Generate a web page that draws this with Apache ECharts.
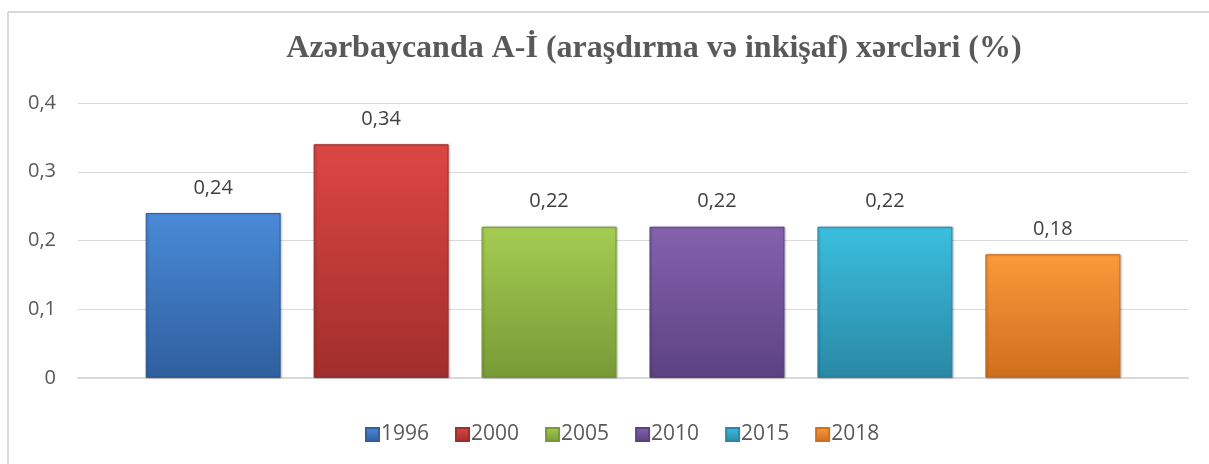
<!DOCTYPE html>
<html>
<head>
<meta charset="utf-8">
<script src="https://cdn.jsdelivr.net/npm/echarts@6/dist/echarts.min.js"></script>
<style>
html,body{margin:0;padding:0;background:#fff;}
#chart{width:1209px;height:464px;}
</style>
</head>
<body>
<div id="chart"></div>
<script>
var titleText = 'Azərbaycanda A-İ (araşdırma və inkişaf) xərcləri (%)';
var years = ['1996', '2000', '2005', '2010', '2015', '2018'];
var values = [0.24, 0.34, 0.22, 0.22, 0.22, 0.18];
var yTicks = [0, 0.1, 0.2, 0.3, 0.4];
var colorsTop = ['#4a8ad8', '#dc4643', '#a5cc52', '#8462ad', '#3cbede', '#fa9a3a'];
var colorsBottom = ['#2f5f9e', '#a02e2c', '#789a36', '#5c4282', '#2a88a6', '#cf6e1e'];

function fmt(v){ return String(+v.toFixed(2)).replace('.', ','); }

var chart = echarts.init(document.getElementById('chart'));
var series = years.map(function(y, i){
  return {
    name: y,
    type: 'bar',
    data: [values[i]],
    barWidth: 135,
    barGap: '24.4%',
    itemStyle: {
      color: new echarts.graphic.LinearGradient(0, 0, 0, 1, [
        {offset: 0, color: colorsTop[i]},
        {offset: 1, color: colorsBottom[i]}
      ]),
      borderColor: colorsBottom[i],
      borderWidth: 1,
      shadowColor: 'rgba(0,0,0,0.25)',
      shadowBlur: 2,
      shadowOffsetX: 1
    },
    label: {
      show: true,
      position: 'top',
      distance: 15,
      color: '#404040',
      fontFamily: 'Open Sans',
      fontSize: 20,
      formatter: function(p){ return fmt(p.value); }
    }
  };
});

chart.setOption({
  animation: false,
  title: {
    text: titleText,
    left: 649,
    textAlign: 'center',
    top: 28,
    textStyle: {
      fontFamily: 'Liberation Serif',
      fontWeight: 'bold',
      fontSize: 32,
      color: '#595959'
    }
  },
  legend: {
    top: 419,
    left: 360,
    itemWidth: 13,
    itemHeight: 13,
    itemGap: 26,
    icon: 'rect',
    textStyle: {fontFamily: 'Open Sans', fontSize: 21, color: '#595959', padding: [0,0,0,-3]},
    data: years
  },
  grid: {left: 78, right: 21, top: 103, bottom: 86},
  xAxis: {
    type: 'category',
    data: [''],
    axisLine: {lineStyle: {color: '#d9d9d9', width: 2}},
    axisTick: {show: false},
    axisLabel: {show: false}
  },
  yAxis: {
    type: 'value',
    min: yTicks[0],
    max: yTicks[yTicks.length - 1],
    interval: 0.1,
    axisLine: {show: false},
    axisTick: {show: false},
    axisLabel: {
      margin: 22,
      color: '#595959',
      fontFamily: 'Open Sans',
      fontSize: 20,
      formatter: function(v){ return fmt(v); }
    },
    splitLine: {lineStyle: {color: '#d9d9d9', width: 1}}
  },
  graphic: [
    {type: 'line', shape: {x1: 8, y1: 12, x2: 1209, y2: 12}, style: {stroke: '#d9d9d9', lineWidth: 2}},
    {type: 'line', shape: {x1: 8, y1: 12, x2: 8, y2: 464}, style: {stroke: '#d9d9d9', lineWidth: 2}}
  ],
  series: series
});
</script>
</body>
</html>
